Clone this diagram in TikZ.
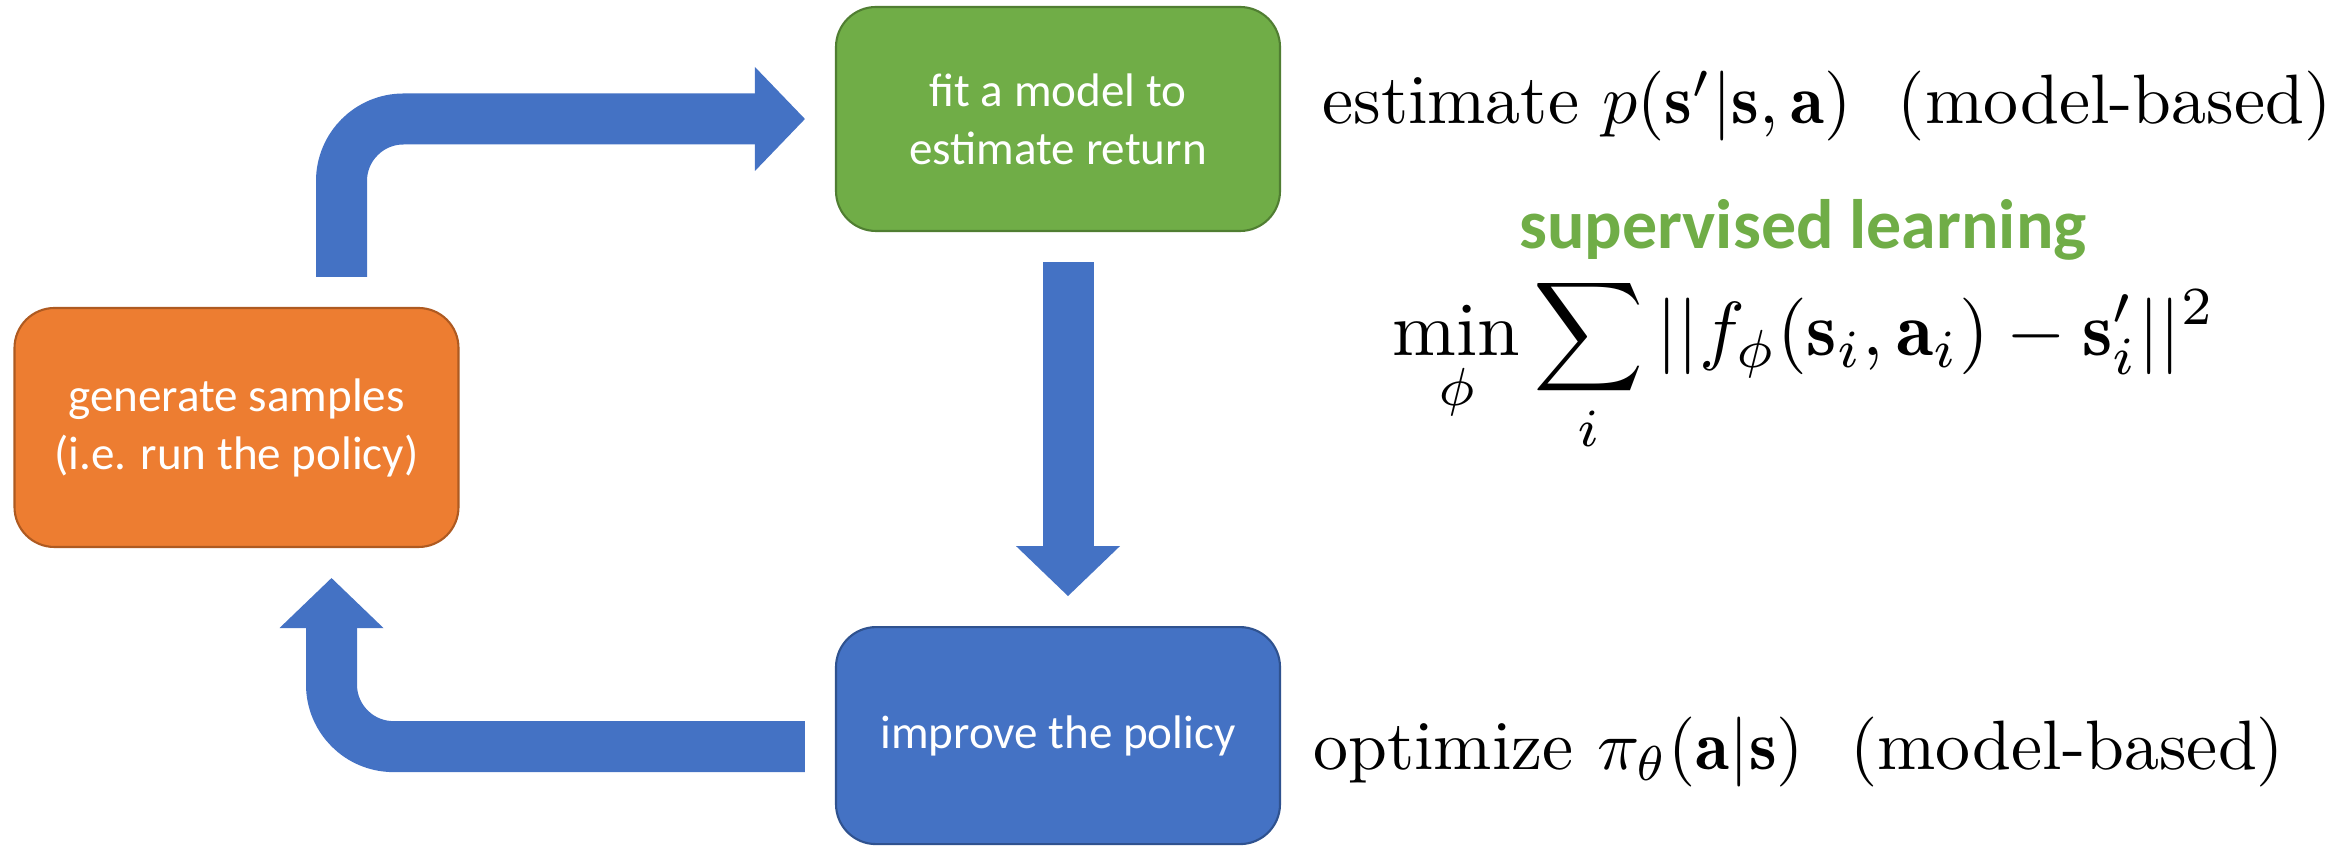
\documentclass[tikz,border=0pt]{standalone}
\usepackage{amsmath}
\usepackage{fontspec}
\newfontfamily\calibri{Carlito}
\usetikzlibrary{positioning}
\usetikzlibrary{arrows.meta}

\definecolor{genfill}{HTML}{ED7D31}
\definecolor{genline}{HTML}{AE5A21}
\definecolor{fitfill}{HTML}{70AD47}
\definecolor{fitline}{HTML}{507E32}
\definecolor{impfill}{HTML}{4472C4}
\definecolor{impline}{HTML}{2F528F}

\tikzset{
  box/.style={rounded corners=0.4cm, line width=0.6pt, text=white, align=center,
    minimum width=4.44cm, font=\calibri\fontsize{13.4}{16.5}\selectfont},
  flow/.style={draw=impfill, line width=0.51cm, rounded corners=0.62cm,
    -{Triangle[length=5mm,width=10.4mm,line width=0pt]}},
  mathtext/.style={inner sep=0pt, scale=1.99, transform shape}
}

\begin{document}
\begin{tikzpicture}
  \useasboundingbox (0,0) rectangle (23.29,-8.47);

  \node[box, fill=genfill, draw=genline, minimum height=2.39cm] (gen) at (2.365,-4.275) {generate samples\\(i.e. run the policy)};
  \node[box, fill=fitfill, draw=fitline, minimum height=2.24cm] (fit) at (10.58,-1.19) {fit a model to\\estimate return};
  \node[box, fill=impfill, draw=impline, minimum height=2.17cm, below=3.94cm of fit] (imp) {improve the policy};

  \draw[flow] ([xshift=1.05cm,yshift=3mm]gen.north) |- ([xshift=-3mm]fit.west);
  \draw[flow] ([xshift=1mm,yshift=-3mm]fit.south) -- ([xshift=1mm,yshift=3mm]imp.north);
  \draw[flow] ([xshift=-3mm,yshift=-1.1mm]imp.west) -| ([xshift=0.95cm,yshift=-3mm]gen.south);

  \node[mathtext, anchor=base west] (est) at (13.21,-1.24) {estimate $p(\mathbf{s}'|\mathbf{s},\mathbf{a})$~~(model-based)};
  \node[inner sep=0pt, anchor=base, text=fitfill, font=\calibri\bfseries\fontsize{19.9}{23}\selectfont] (sup) at (18.03,-2.49) {supervised learning};
  \node[mathtext, scale=1.095, anchor=base] (loss) at (18.04,-3.56) {$\displaystyle\min_{\phi}\sum_{i}||f_{\phi}(\mathbf{s}_i,\mathbf{a}_i)-\mathbf{s}'_i||^2$};
  \node[mathtext, anchor=base west] (opt) at (13.12,-7.70) {optimize $\pi_{\theta}(\mathbf{a}|\mathbf{s})$~~(model-based)};
\end{tikzpicture}
\end{document}
